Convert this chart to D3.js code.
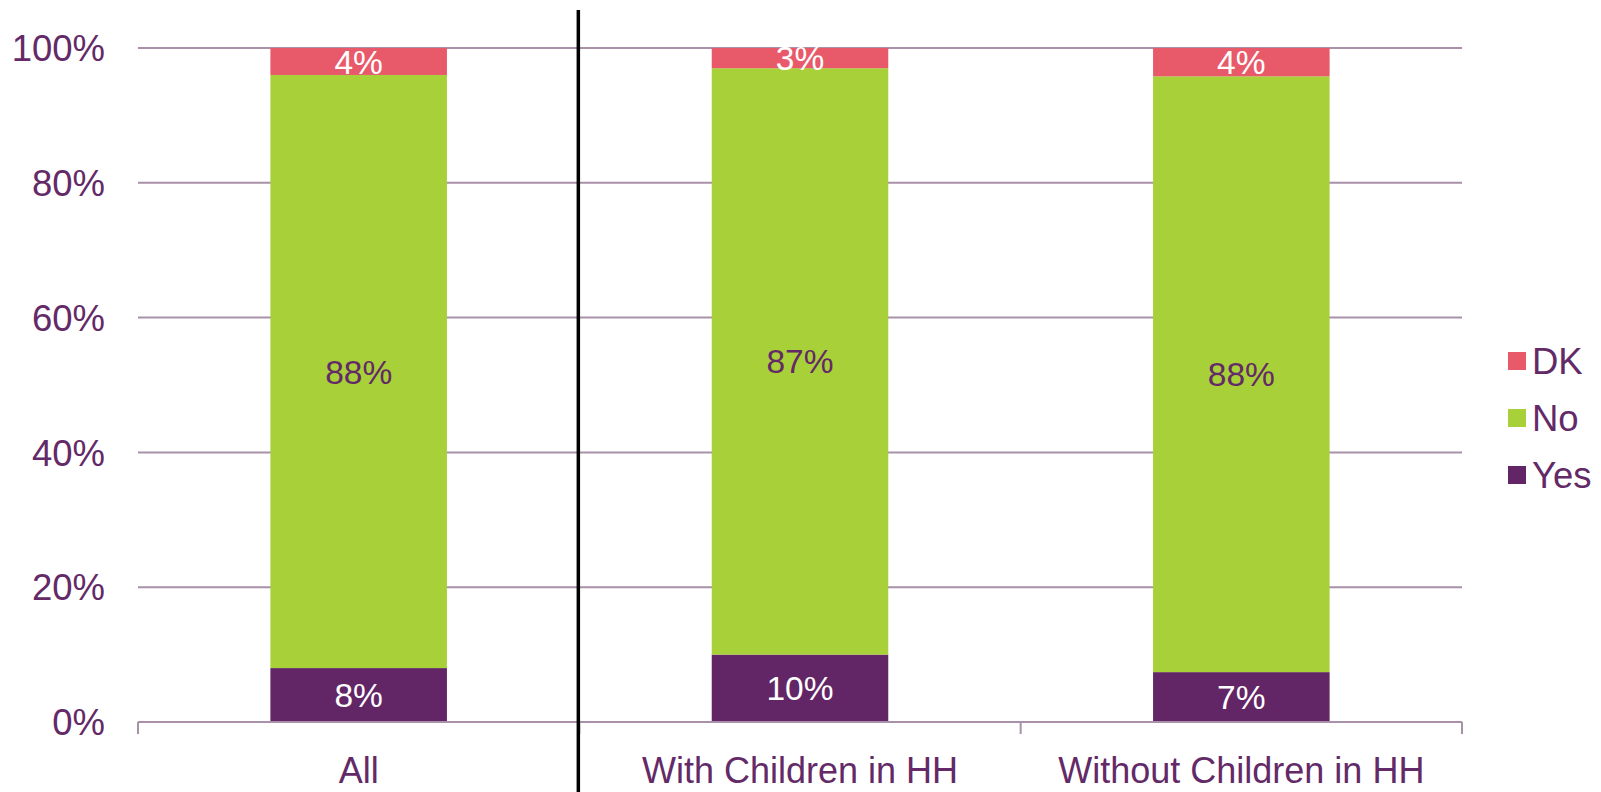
<!DOCTYPE html>
<html>
<head>
<meta charset="utf-8">
<script src="https://cdn.jsdelivr.net/npm/d3@7"></script>
<style>
  html, body { margin: 0; padding: 0; background: #fff; }
  svg { display: block; font-family: Arial, "Liberation Sans", sans-serif; }
</style>
</head>
<body>
<svg id="chart" width="1601" height="792"></svg>
<script>
const categories = ["All", "With Children in HH", "Without Children in HH"];
const seriesNames = ["Yes", "No", "DK"];
const yesValues = [8, 10, 7.4];
const noValues = [88, 87, 88.4];
const dkValues = [4, 3, 4.2];
const yTicks = [0, 20, 40, 60, 80, 100];

const colors = { Yes: "#622566", No: "#A8D038", DK: "#E8596A" };
const labelColors = { Yes: "#ffffff", No: "#632A67", DK: "#ffffff" };
const textColor = "#632A67";
const gridColor = "#A891A9";

const svg = d3.select("#chart");
const margin = { left: 138, right: 1462, top: 48, bottom: 722 };

const x = d3.scaleBand().domain(categories).range([margin.left, margin.right]).paddingInner(0.6).paddingOuter(0.3);
const xOuter = d3.scaleBand().domain(categories).range([margin.left, margin.right]).padding(0);
const y = d3.scaleLinear().domain([0, 100]).range([margin.bottom, margin.top]);

// gridlines
svg.append("g").selectAll("line").data(yTicks.filter(d => d > 0)).join("line")
  .attr("x1", margin.left).attr("x2", margin.right)
  .attr("y1", d => y(d)).attr("y2", d => y(d))
  .attr("stroke", gridColor).attr("stroke-width", 2);

// y labels
svg.append("g").selectAll("text").data(yTicks).join("text")
  .attr("x", 105).attr("y", d => y(d)).attr("dy", "0.36em")
  .attr("text-anchor", "end").attr("fill", textColor)
  .attr("font-size", 36.5).text(d => d + "%");

// stacked data
const table = categories.map((c, i) => ({ cat: c, Yes: yesValues[i], No: noValues[i], DK: dkValues[i] }));
const stack = d3.stack().keys(seriesNames)(table);

const bars = svg.append("g");
stack.forEach(layer => {
  const key = layer.key;
  bars.append("g").selectAll("rect").data(layer).join("rect")
    .attr("x", d => x(d.data.cat))
    .attr("width", x.bandwidth())
    .attr("y", d => y(d[1]))
    .attr("height", d => y(d[0]) - y(d[1]))
    .attr("fill", colors[key]);
});

// data labels
const labels = svg.append("g");
stack.forEach(layer => {
  const key = layer.key;
  labels.append("g").selectAll("text").data(layer).join("text")
    .attr("x", d => x(d.data.cat) + x.bandwidth() / 2)
    .attr("y", d => (y(d[0]) + y(d[1])) / 2)
    .attr("dy", "0.36em")
    .attr("text-anchor", "middle")
    .attr("font-size", 33.5)
    .attr("fill", labelColors[key])
    .text(d => Math.round(d.data[key]) + "%");
});

// x axis baseline and ticks
const axis = svg.append("g");
axis.append("line")
  .attr("x1", margin.left).attr("x2", margin.right)
  .attr("y1", y(0)).attr("y2", y(0))
  .attr("stroke", gridColor).attr("stroke-width", 2);
const bounds = categories.map(c => xOuter(c)).concat([margin.right]);
axis.selectAll("line.tick").data(bounds).join("line").attr("class", "tick")
  .attr("x1", d => d).attr("x2", d => d)
  .attr("y1", y(0)).attr("y2", y(0) + 12)
  .attr("stroke", gridColor).attr("stroke-width", 2);

axis.selectAll("text").data(categories).join("text")
  .attr("x", d => xOuter(d) + xOuter.bandwidth() / 2)
  .attr("y", 783)
  .attr("text-anchor", "middle")
  .attr("font-size", 36)
  .attr("fill", textColor)
  .text(d => d);

// separator line
svg.append("line")
  .attr("x1", xOuter(categories[1]) - 1).attr("x2", xOuter(categories[1]) - 1)
  .attr("y1", 10).attr("y2", 792)
  .attr("stroke", "#000").attr("stroke-width", 3.5);

// legend
const legendItems = ["DK", "No", "Yes"];
const legend = svg.append("g");
legendItems.forEach((k, i) => {
  const cy = 361 + i * 57;
  legend.append("rect").attr("x", 1508).attr("y", cy - 9).attr("width", 18).attr("height", 18).attr("fill", colors[k]);
  legend.append("text").attr("x", 1532).attr("y", cy).attr("dy", "0.36em")
    .attr("font-size", 36.5).attr("fill", textColor).text(k);
});
</script>
</body>
</html>
